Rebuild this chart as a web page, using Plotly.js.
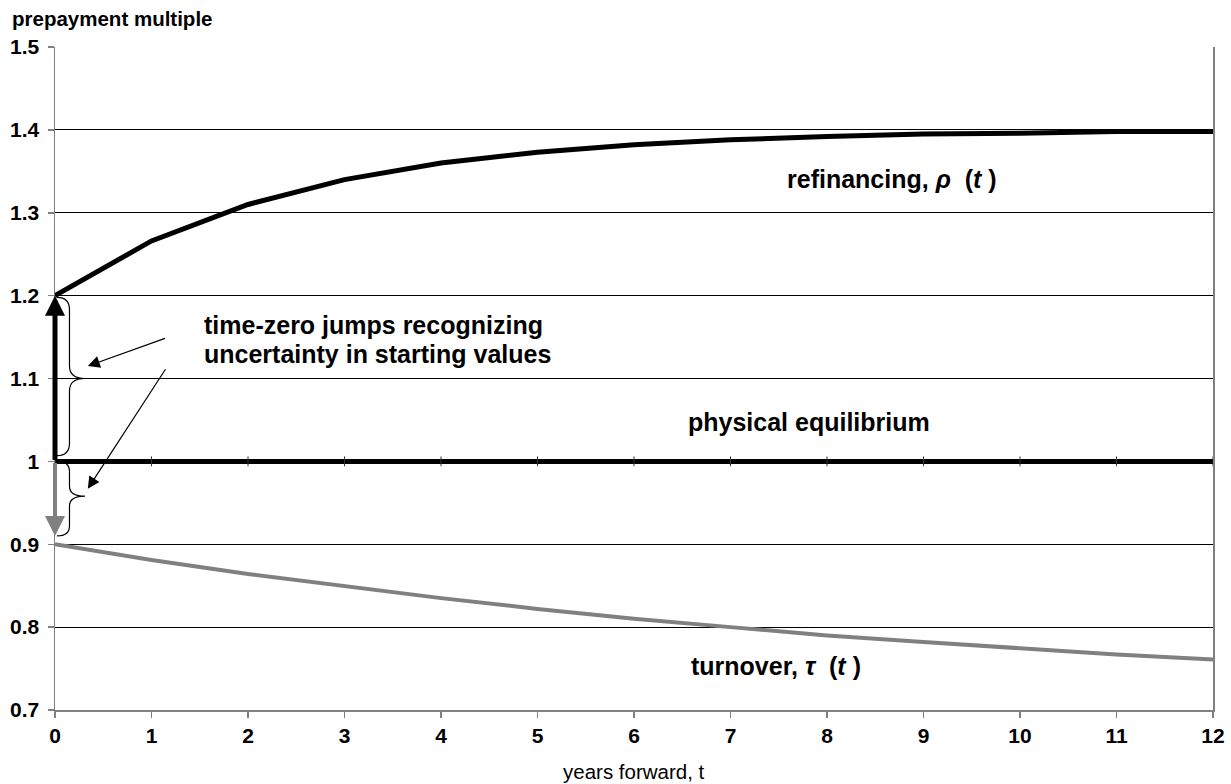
<!DOCTYPE html>
<html>
<head>
<meta charset="utf-8">
<script src="https://cdn.plot.ly/plotly-3.0.1.min.js"></script>
<style>html,body{margin:0;padding:0;background:#fff;}#chart{width:1231px;height:784px;}</style>
</head>
<body>
<div id="chart"></div>
<script>
// ---- data ----
const years = [0,1,2,3,4,5,6,7,8,9,10,11,12];
const refinancing = [1.2,1.266,1.31,1.34,1.36,1.373,1.382,1.388,1.392,1.395,1.396,1.398,1.398];
const turnover = [0.9,0.881,0.864,0.849,0.835,0.822,0.81,0.8,0.79,0.782,0.774,0.767,0.761];
const equilibrium = [1,1,1,1,1,1,1,1,1,1,1,1,1];
const yTickVals = [0.7,0.8,0.9,1.0,1.1,1.2,1.3,1.4,1.5];
const yTickText = ['0.7','0.8','0.9','1','1.1','1.2','1.3','1.4','1.5'];
const xTickText = ['0','1','2','3','4','5','6','7','8','9','10','11','12'];

const FONT = '"Liberation Sans", Arial, Helvetica, sans-serif';
const GRAY = '#808080';

const traces = [
  {x: years, y: refinancing, mode: 'lines', line: {color: '#000', width: 5}, hoverinfo: 'skip'},
  {x: years, y: turnover, mode: 'lines', line: {color: GRAY, width: 4}, hoverinfo: 'skip'},
  {x: years, y: equilibrium, mode: 'lines+markers', line: {color: '#000', width: 5},
   marker: {symbol: 'line-ns', size: 7, line: {color: '#333', width: 1}}, hoverinfo: 'skip'}
];

// curly brace path in data coordinates
function brace(x0, xs, xt, y1, ym, y2, d) {
  return 'M' + x0 + ',' + y1 +
    ' Q' + xs + ',' + y1 + ' ' + xs + ',' + (y1 - d) +
    ' L' + xs + ',' + (ym + d) +
    ' Q' + xs + ',' + ym + ' ' + xt + ',' + ym +
    ' Q' + xs + ',' + ym + ' ' + xs + ',' + (ym - d) +
    ' L' + xs + ',' + (y2 + d) +
    ' Q' + xs + ',' + y2 + ' ' + x0 + ',' + y2;
}

const shapes = [
  {type: 'path', xref: 'x', yref: 'y', path: brace(0.02, 0.15, 0.31, refinancing[0] - 0.002, 1.1, equilibrium[0] + 0.007, 0.015),
   line: {color: '#000', width: 1.2}},
  {type: 'path', xref: 'x', yref: 'y', path: brace(0.02, 0.15, 0.31, equilibrium[0], 0.958, turnover[0] + 0.01, 0.012),
   line: {color: '#000', width: 1.2}}
];

const labelFont = {family: FONT, size: 25, color: '#000', weight: 'bold'};

const annotations = [
  // thick jump arrows at time zero
  {x: years[0], y: refinancing[0], ax: years[0], ay: equilibrium[0], xref: 'x', yref: 'y', axref: 'x', ayref: 'y',
   text: '', showarrow: true, arrowhead: 2, arrowsize: 0.8, arrowwidth: 5, arrowcolor: '#000'},
  {x: years[0], y: turnover[0] + 0.01, ax: years[0], ay: equilibrium[0], xref: 'x', yref: 'y', axref: 'x', ayref: 'y',
   text: '', showarrow: true, arrowhead: 2, arrowsize: 1.0, arrowwidth: 4, arrowcolor: GRAY},
  // thin pointer arrows
  {x: 0.34, y: 1.115, ax: 1.155, ay: 1.149, xref: 'x', yref: 'y', axref: 'x', ayref: 'y',
   text: '', showarrow: true, arrowhead: 2, arrowsize: 2, arrowwidth: 1.2, arrowcolor: '#000'},
  {x: 0.34, y: 0.967, ax: 1.155, ay: 1.113, xref: 'x', yref: 'y', axref: 'x', ayref: 'y',
   text: '', showarrow: true, arrowhead: 2, arrowsize: 2, arrowwidth: 1.2, arrowcolor: '#000'},
  // text labels
  {x: 1.52, y: 1.164, xref: 'x', yref: 'y', xanchor: 'left', yanchor: 'middle', align: 'left', showarrow: false,
   text: 'time-zero jumps recognizing', font: labelFont},
  {x: 1.52, y: 1.130, xref: 'x', yref: 'y', xanchor: 'left', yanchor: 'middle', align: 'left', showarrow: false,
   text: 'uncertainty in starting values', font: labelFont},
  {x: 8.67, y: 1.341, xref: 'x', yref: 'y', showarrow: false,
   text: 'refinancing, <i>ρ</i>  (<i>t</i> )', font: labelFont},
  {x: 7.81, y: 1.048, xref: 'x', yref: 'y', showarrow: false,
   text: 'physical equilibrium', font: labelFont},
  {x: 7.47, y: 0.7525, xref: 'x', yref: 'y', showarrow: false,
   text: 'turnover, <i>τ</i>  (<i>t</i> )', font: labelFont},
  // y-axis caption at top left
  {xref: 'paper', yref: 'paper', x: 0, y: 1, xshift: -45, yshift: 29, xanchor: 'left', yanchor: 'middle', showarrow: false,
   text: 'prepayment multiple', font: {family: FONT, size: 20.5, color: '#000', weight: 'bold'}},
  // x-axis caption
  {xref: 'paper', yref: 'paper', x: 0.5, y: 0, yshift: -61, xanchor: 'center', yanchor: 'middle', showarrow: false,
   text: 'years forward, t', font: {family: FONT, size: 20.5, color: '#000'}}
];

const layout = {
  width: 1231, height: 784,
  margin: {l: 55, r: 18, t: 47, b: 74},
  paper_bgcolor: '#fff', plot_bgcolor: '#fff',
  showlegend: false,
  font: {family: FONT, color: '#000'},
  xaxis: {
    range: [0, 12], tickvals: years, ticktext: xTickText,
    showgrid: false, zeroline: false,
    showline: true, linecolor: GRAY, linewidth: 1.5, mirror: false,
    ticks: 'outside', ticklen: 6, tickcolor: GRAY, tickwidth: 1.5,
    tickfont: {family: FONT, size: 21, color: '#000', weight: 'bold'}
  },
  yaxis: {
    range: [0.7, 1.5], tickvals: yTickVals, ticktext: yTickText,
    showgrid: true, gridcolor: '#000', gridwidth: 1, zeroline: false,
    showline: true, linecolor: GRAY, linewidth: 1.5, mirror: true,
    ticks: 'outside', ticklen: 6, tickcolor: GRAY, tickwidth: 1.5,
    ticklabelstandoff: 4,
    tickfont: {family: FONT, size: 21, color: '#000', weight: 'bold'}
  },
  shapes: shapes,
  annotations: annotations
};

Plotly.newPlot('chart', traces, layout, {displayModeBar: false, staticPlot: true});
</script>
</body>
</html>
